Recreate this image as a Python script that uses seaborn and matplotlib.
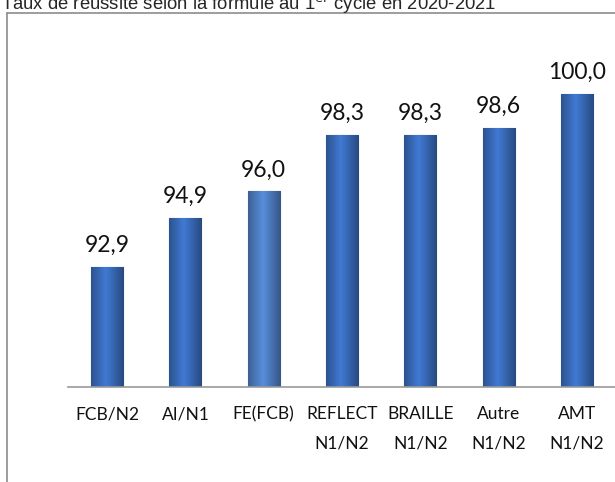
import numpy as np
import pandas as pd
import matplotlib
matplotlib.use('Agg')
import matplotlib.pyplot as plt
import seaborn as sns

categories = ['FCB/N2', 'AI/N1', 'FE(FCB)', 'REFLECT\nN1/N2', 'BRAILLE\nN1/N2', 'Autre\nN1/N2', 'AMT\nN1/N2']
values = [92.9, 94.9, 96.0, 98.3, 98.3, 98.6, 100.0]
value_labels = ['92,9', '94,9', '96,0', '98,3', '98,3', '98,6', '100,0']
bar_colors = ['#3a6dbd', '#3a6dbd', '#4f7fc4', '#3a6dbd', '#3a6dbd', '#3a6dbd', '#3a6dbd']
title = 'Taux de réussite selon la formule au 1$^{\\mathrm{er}}$ cycle en 2020-2021'

sns.set_style('white')
plt.rcParams['font.family'] = ['Lato', 'DejaVu Sans']

df = pd.DataFrame({'cat': categories, 'val': values})

fig = plt.figure(figsize=(6.15, 4.82), dpi=100)
W, H = 615, 482
# axes: x from 68 to 616 px, y from 13 to 387 px (top-down)
ax = fig.add_axes([68 / W, 1 - 387 / H, (616 - 68) / W, (387 - 13) / H])

sns.barplot(data=df, x='cat', y='val', hue='cat', palette=bar_colors, legend=False,
            width=0.41, ax=ax, edgecolor='#2a5598', linewidth=0.8)
ax.set_ylim(88, 103.3)
ax.set_xlim(-0.5, len(categories) - 0.5)

# horizontal gradient fill in each bar
grad = np.linspace(0, 1, 64).reshape(1, -1)
for patch, base in zip(ax.patches, bar_colors):
    x0, y0 = patch.get_x(), patch.get_y()
    w, h = patch.get_width(), patch.get_height()
    c = np.array(matplotlib.colors.to_rgb(base))
    dark = c * 0.68
    light = np.minimum(c * 1.12, 1)
    prof = np.abs(grad - 0.45) / 0.55
    rgb = light[None, None, :] * (1 - prof[..., None]) + dark[None, None, :] * prof[..., None]
    im = ax.imshow(rgb, extent=[x0, x0 + w, 88, y0 + h], aspect='auto', zorder=patch.get_zorder() + 0.1)
    im.set_clip_path(patch)

for i, (v, lab) in enumerate(zip(values, value_labels)):
    ax.text(i, v + 0.45, lab, ha='center', va='bottom', fontsize=16.5, color='#111111')

ax.set_xlabel('')
ax.set_ylabel('')
ax.set_yticks([])
for s in ['left', 'top', 'right']:
    ax.spines[s].set_visible(False)
ax.spines['bottom'].set_color('#9a9a9a')
ax.spines['bottom'].set_linewidth(1.2)
ax.set_xticks(np.arange(-0.5, len(categories), 1), minor=True)
ax.tick_params(axis='x', which='minor', length=6, color='#9a9a9a', width=1.2, direction='out')
ax.tick_params(axis='x', which='major', length=0, labelsize=12.5, pad=14)
for t in ax.get_xticklabels():
    t.set_linespacing(2.0)
    t.set_color('#111111')

# chart border (partly clipped by the image edges)
fig.add_artist(plt.Line2D([7 / W, 7 / W], [0, 1 - 13 / H], color='#8c8c8c', lw=1.2))
fig.add_artist(plt.Line2D([7 / W, 1], [1 - 13 / H, 1 - 13 / H], color='#8c8c8c', lw=1.2))

fig.text(1 / W, 1 - 10 / H, title, ha='left', va='baseline', fontsize=13.3,
         family=['Liberation Sans', 'DejaVu Sans'])

fig.savefig('out.png', dpi=100)
